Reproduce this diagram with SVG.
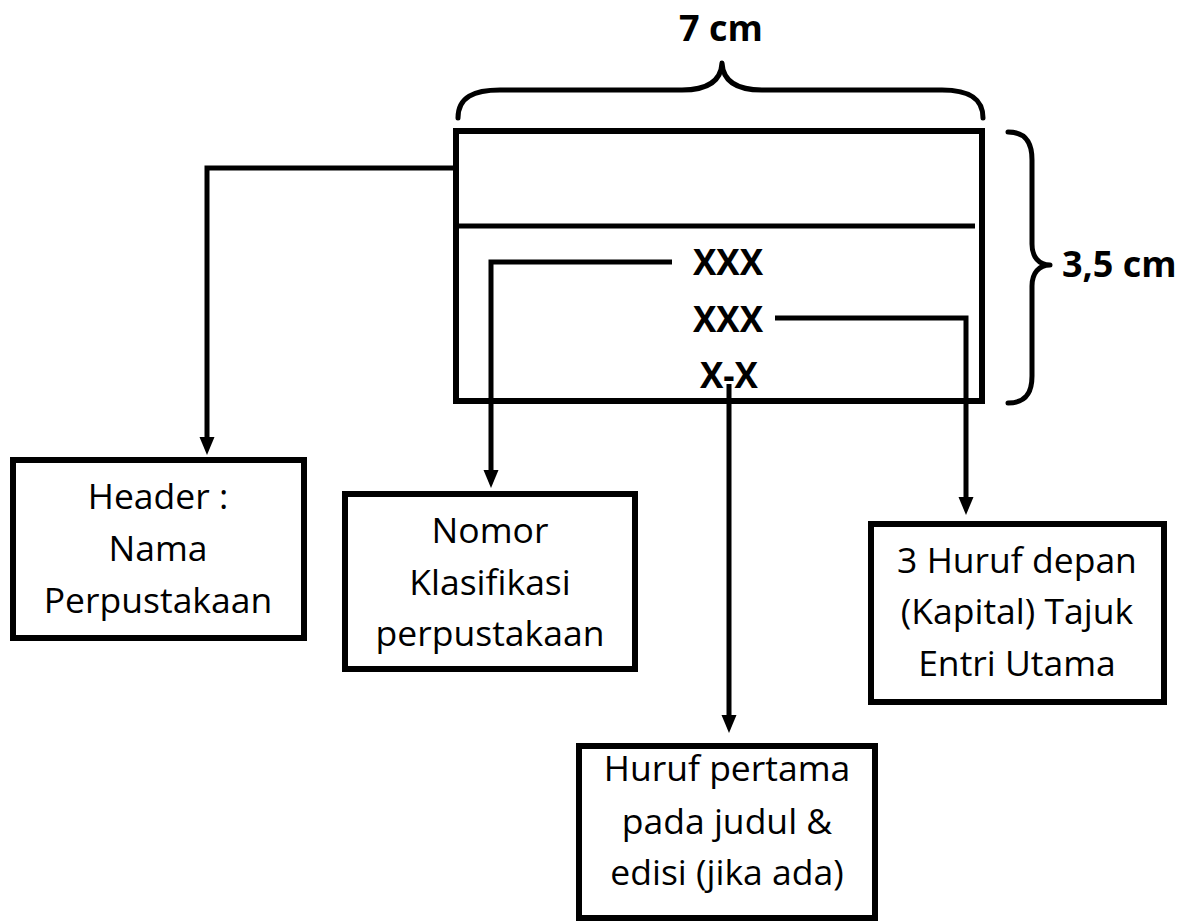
<svg xmlns="http://www.w3.org/2000/svg" width="1184" height="924" viewBox="0 0 1184 924">
<style>
.box{fill:#fff;stroke:#000;stroke-width:6}
.lbl{font-family:"Open Sans","Liberation Sans",sans-serif;font-size:35.5px;fill:#000;text-anchor:middle}
.bold{font-family:"Open Sans","Liberation Sans",sans-serif;font-size:36px;font-weight:bold;fill:#000}
.code{font-family:"Open Sans","Liberation Sans",sans-serif;font-size:35px;font-weight:bold;fill:#000;text-anchor:middle}
.conn{fill:none;stroke:#000;stroke-width:5}
.brace{fill:none;stroke:#000;stroke-width:5;stroke-linecap:round;stroke-linejoin:round}
</style>
<defs>
<marker id="arr" viewBox="0 -8 18 16" refX="0" refY="0" markerWidth="18" markerHeight="16" markerUnits="userSpaceOnUse" orient="auto">
<path d="M0,-7.5 L18,0 L0,7.5 z" fill="#000"/>
</marker>
</defs>
<rect width="1184" height="924" fill="#fff"/>
<g id="dimensions">
<path class="brace" d="M458,118 C458,97 474,90 500,90 L682,90 C706,90 721,82 722,63 C723,82 738,90 762,90 L942,90 C967,90 983,97 983,118"/>
<text class="bold" x="721" y="41" text-anchor="middle">7 cm</text>
<path class="brace" d="M1008,132 C1025,132 1032,142 1032,160 L1032,244 C1032,257 1039,265 1050,265 C1039,265 1032,273 1032,286 L1032,376 C1032,394 1025,403 1008,403"/>
<text class="bold" x="1062" y="277">3,5 cm</text>
</g>
<g id="card">
<rect class="box" x="456" y="131" width="526" height="270"/>
<line x1="456" y1="226" x2="975" y2="226" stroke="#000" stroke-width="5"/>
<text class="code" x="728" y="275">XXX</text>
<text class="code" x="728" y="332">XXX</text>
<text class="code" x="729" y="388">X-X</text>
</g>
<g id="connectors">
<path class="conn" d="M453,168 H207 V437" marker-end="url(#arr)"/>
<path class="conn" d="M672,262 H491 V470" marker-end="url(#arr)"/>
<path class="conn" d="M775,318 H966 V497" marker-end="url(#arr)"/>
<path class="conn" d="M729,384 V715" marker-end="url(#arr)"/>
</g>
<g id="node-header">
<rect class="box" x="13" y="460" width="291" height="178"/>
<text class="lbl" x="158" y="509">Header :</text>
<text class="lbl" x="158" y="561">Nama</text>
<text class="lbl" x="158" y="613">Perpustakaan</text>
</g>
<g id="node-nomor">
<rect class="box" x="345" y="494" width="290" height="175"/>
<text class="lbl" x="490" y="543">Nomor</text>
<text class="lbl" x="490" y="595">Klasifikasi</text>
<text class="lbl" x="490" y="646">perpustakaan</text>
</g>
<g id="node-huruf-depan">
<rect class="box" x="871" y="524" width="293" height="178"/>
<text class="lbl" x="1017" y="573">3 Huruf depan</text>
<text class="lbl" x="1017" y="624">(Kapital) Tajuk</text>
<text class="lbl" x="1017" y="676">Entri Utama</text>
</g>
<g id="node-huruf-pertama">
<rect class="box" x="579" y="746" width="296" height="172"/>
<text class="lbl" x="727" y="781">Huruf pertama</text>
<text class="lbl" x="727" y="834">pada judul &amp;</text>
<text class="lbl" x="727" y="885">edisi (jika ada)</text>
</g>
</svg>
